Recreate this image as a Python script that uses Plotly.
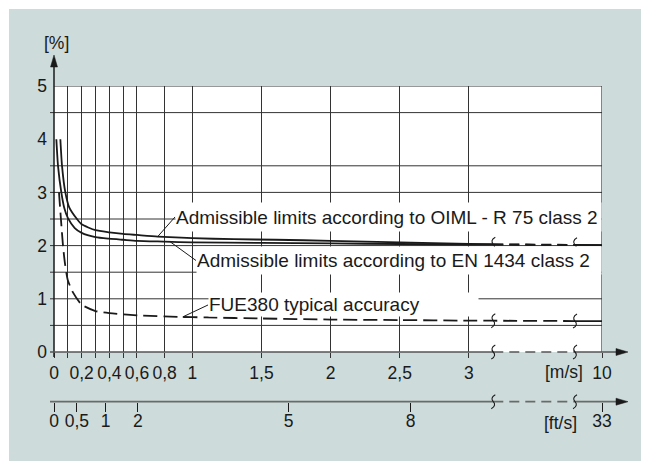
import numpy as np
import plotly.graph_objects as go

# ---------------- data ----------------
MS_TICKS = [0, 0.1, 0.2, 0.3, 0.4, 0.5, 0.6, 0.8, 1, 1.5, 2, 2.5, 3, 10]
MS_LABELS = ["0", "", "0,2", "", "0,4", "", "0,6", "0,8", "1", "1,5", "2", "2,5", "3", "10"]
FT_LABELS = ["0", "0,5", "1", "2", "5", "8", "33"]
FT_POS_MS = [0, 0.165, 0.374, 0.607, 1.697, 2.579, 10]   # where the ft/s ticks sit on the m/s scale
Y_TICKS = [0, 1, 2, 3, 4, 5]
Y_GRID = [0.5, 1, 1.5, 2, 2.5, 3, 3.5, 4.5, 5]

OIML_X = [0.046, 0.058, 0.082, 0.11, 0.166, 0.2, 0.3, 0.4, 0.5, 0.6, 0.75, 1.0, 1.3, 1.6, 2.0, 2.5, 3.0]
OIML_Y = [4.0, 3.5, 3.0, 2.72, 2.5, 2.40, 2.29, 2.25, 2.22, 2.20, 2.17, 2.14, 2.12, 2.11, 2.09, 2.06, 2.03]
EN_X = [0.017, 0.029, 0.053, 0.075, 0.1, 0.15, 0.2, 0.3, 0.4, 0.5, 0.6, 0.8, 1.0, 1.5, 2.0, 2.5, 3.0]
EN_Y = [4.0, 3.5, 3.0, 2.7, 2.52, 2.33, 2.24, 2.16, 2.13, 2.11, 2.09, 2.075, 2.06, 2.05, 2.04, 2.03, 2.02]
FUE_X = [0.036, 0.05, 0.065, 0.08, 0.1, 0.137, 0.2, 0.3, 0.4, 0.6, 0.9, 1.1, 1.5, 2.0, 2.5, 3.0]
FUE_Y = [3.0, 2.5, 2.0, 1.65, 1.35, 1.12, 0.89, 0.77, 0.73, 0.69, 0.66, 0.65, 0.63, 0.61, 0.60, 0.59]
V_END = 10
OIML_END = 2.01
EN_END = 2.01
FUE_END = 0.58

LBL_OIML = "Admissible limits according to OIML - R 75 class 2"
LBL_EN = "Admissible limits according to EN 1434 class 2"
LBL_FUE = "FUE380 typical accuracy"

# ---------------- layout geometry (page pixel coords; page body has an 8px margin) ----------------
OFF = 8
W, H = 649 - OFF, 461 - OFF
ML, MR, MT, MB = 54 - OFF, 47, 86 - OFF, 51
PW, PH = W - ML - MR, H - MT - MB
X_AXIS_PX = 352
FT_AXIS_PX = 401.7
DISP_END = 3.962          # display position of 10 m/s (broken axis)
BRK1 = 3.176              # first break mark (display units)
BRK2 = 3.767              # second break mark (display units)

def PX(p):
    return (p - OFF - ML) / PW

def PY(p):
    return (H - MB - (p - OFF)) / PH

def to_disp(v):
    v = np.asarray(v, dtype=float)
    return np.where(v <= BRK1, v, BRK1 + (v - BRK1) * (DISP_END - BRK1) / (V_END - BRK1))

def D2P(d):
    return d / DISP_END

BG = "#cddbda"
INK = "#1a1a1a"
GRID = "#333333"
AXC = "#555555"
FONT = "Liberation Sans, Arial, sans-serif"
TF = 17.5
LF = 19

fig = go.Figure()

def split_curve(xs, ys, yend):
    xd = list(to_disp(list(xs) + [V_END]))
    yd = list(ys) + [yend]
    f = lambda d: float(np.interp(d, xd, yd))
    a_x = [d for d in xd if d < BRK1] + [BRK1]
    a_y = [f(d) for d in a_x]
    b_x = [BRK1, BRK2]
    b_y = [f(d) for d in b_x]
    c_x = [BRK2, DISP_END]
    c_y = [f(d) for d in c_x]
    return (a_x, a_y), (b_x, b_y), (c_x, c_y), f

def add_line(x, y, dash="solid", width=1.8):
    fig.add_trace(go.Scatter(x=x, y=y, mode="lines", showlegend=False, hoverinfo="skip",
                             line=dict(color=INK, width=width, dash=dash, shape="spline", smoothing=0.6)))

segs = {}
for name, xs, ys, ye in [("oiml", OIML_X, OIML_Y, OIML_END), ("en", EN_X, EN_Y, EN_END)]:
    a, b, c, f = split_curve(xs, ys, ye)
    segs[name] = f
    add_line(*a)
    add_line(*b, dash="10px,6px")
    add_line(*c)

a, b, c, f_fue = split_curve(FUE_X, FUE_Y, FUE_END)
add_line(a[0] + [BRK2], a[1] + [b[1][1]], dash="14px,6px")
add_line(*c)

# dummy trace so the ft/s axis is drawn
fig.add_trace(go.Scatter(x=[], y=[], xaxis="x2", yaxis="y", showlegend=False))

shapes = []
# grey page + white plot area
shapes.append(dict(type="rect", xref="paper", yref="paper", x0=PX(9), x1=PX(700),
                   y0=PY(520), y1=PY(9), fillcolor=BG, line=dict(width=0), layer="below"))
shapes.append(dict(type="rect", xref="paper", yref="paper", x0=0, x1=1, y0=PY(X_AXIS_PX), y1=1,
                   fillcolor="white", line=dict(width=0), layer="below"))
# horizontal grid lines
for v in Y_GRID:
    shapes.append(dict(type="line", xref="paper", yref="y", x0=PX(50) if v < 5 else 0, x1=1,
                       y0=v, y1=v, line=dict(color=GRID, width=1), layer="below"))
# right border
shapes.append(dict(type="line", xref="x", yref="y", x0=DISP_END, x1=DISP_END, y0=0, y1=5,
                   line=dict(color=GRID, width=1.2), layer="below"))
# y axis with arrow
shapes.append(dict(type="line", xref="paper", yref="paper", x0=0, x1=0, y0=PY(357), y1=PY(62),
                   line=dict(color=INK, width=1.5)))
shapes.append(dict(type="path", xref="paper", yref="paper", xsizemode="pixel", ysizemode="pixel",
                   xanchor=0, yanchor=PY(55), path="M0,0 L-3.5,-12 L3.5,-12 Z",
                   fillcolor=INK, line=dict(color=INK, width=0.5)))

def broken_axis(py_line, color, width):
    yy = PY(py_line)
    shapes.append(dict(type="line", xref="paper", yref="paper", x0=PX(50), x1=D2P(BRK1), y0=yy, y1=yy,
                       line=dict(color=color, width=width)))
    shapes.append(dict(type="line", xref="paper", yref="paper", x0=D2P(BRK1), x1=D2P(BRK2), y0=yy, y1=yy,
                       line=dict(color=color, width=width, dash="10px,6px")))
    shapes.append(dict(type="line", xref="paper", yref="paper", x0=D2P(BRK2), x1=PX(618), y0=yy, y1=yy,
                       line=dict(color=color, width=width)))
    shapes.append(dict(type="path", xref="paper", yref="paper", xsizemode="pixel", ysizemode="pixel",
                       xanchor=PX(628), yanchor=yy, path="M0,0 L-12,3.5 L-12,-3.5 Z",
                       fillcolor=INK, line=dict(color=INK, width=0.5)))

broken_axis(X_AXIS_PX, AXC, 1.5)
broken_axis(FT_AXIS_PX, "#6a6a6a", 1.8)

SQ = "M2,7 C-2,5 -2,2 0,0 C2,-2 2,-5 -2,-7"
def squiggle(xd, yref, yv):
    shapes.append(dict(type="path", xref="x", yref=yref, xsizemode="pixel", ysizemode="pixel",
                       xanchor=xd, yanchor=yv, path=SQ, line=dict(color=INK, width=1.1)))

for bx in (BRK1, BRK2):
    squiggle(bx, "y", segs["oiml"](bx))
    squiggle(bx, "y", f_fue(bx))
    squiggle(bx, "paper", PY(X_AXIS_PX))
    squiggle(bx, "paper", PY(FT_AXIS_PX))

def text_label(text, xp, yp):
    return dict(text=text, xref="paper", yref="paper", x=PX(xp), y=PY(yp), showarrow=False,
                xanchor="center", yanchor="middle", font=dict(size=TF, color=INK, family=FONT))

annotations = [
    text_label("[%]", 56, 43.5),
    text_label("[m/s]", 564, 372),
    text_label("[ft/s]", 560, 422.5),
]

def label(text, xv, f, ax, ay, width, height):
    annotations.append(dict(text=text, x=xv, y=f(xv), xref="x", yref="y", ax=ax, ay=ay,
                            showarrow=True, arrowhead=0, arrowwidth=1, arrowcolor=INK,
                            xanchor="left", yanchor="middle", align="left", valign="middle",
                            width=width, height=height, bgcolor="white", borderpad=0,
                            font=dict(size=LF, color=INK, family=FONT)))

label(LBL_OIML, 0.75, segs["oiml"], 17.3, -19.6, 425, 28)
label(LBL_EN, 0.84, segs["en"], 25.8, 18.7, 404, 27)
label(LBL_FUE, 0.93, f_fue, 25.4, -12, 269, 23)

fig.update_layout(
    width=W, height=H,
    margin=dict(l=ML, r=MR, t=MT, b=MB, pad=0),
    paper_bgcolor="white", plot_bgcolor="white",
    showlegend=False,
    font=dict(family=FONT, size=TF, color=INK),
    xaxis=dict(domain=[0, 1], range=[0, DISP_END], anchor="y",
               tickmode="array", tickvals=list(to_disp(MS_TICKS)), ticktext=MS_LABELS,
               ticks="outside", ticklen=5, tickwidth=1, tickcolor=GRID, tickangle=0,
               showgrid=True, gridcolor=GRID, gridwidth=1, zeroline=False, showline=False,
               tickfont=dict(size=TF, color=INK, family=FONT), ticklabelstandoff=0, fixedrange=True),
    xaxis2=dict(overlaying="x", anchor="free", position=PY(FT_AXIS_PX), side="bottom",
                range=[0, DISP_END], tickmode="array", tickvals=list(to_disp(FT_POS_MS)),
                ticktext=FT_LABELS, ticks="outside", ticklen=9, tickwidth=1.2, tickcolor=INK,
                tickangle=0, showgrid=False, zeroline=False, showline=False,
                tickfont=dict(size=TF, color=INK, family=FONT), ticklabelstandoff=-6, fixedrange=True),
    yaxis=dict(domain=[PY(X_AXIS_PX), 1], range=[0, 5], tickmode="array", tickvals=Y_TICKS,
               ticks="", showgrid=False, zeroline=False, showline=False,
               tickfont=dict(size=TF, color=INK, family=FONT), ticklabelstandoff=6, fixedrange=True),
    shapes=shapes,
    annotations=annotations,
)

fig.write_html("out.html")
